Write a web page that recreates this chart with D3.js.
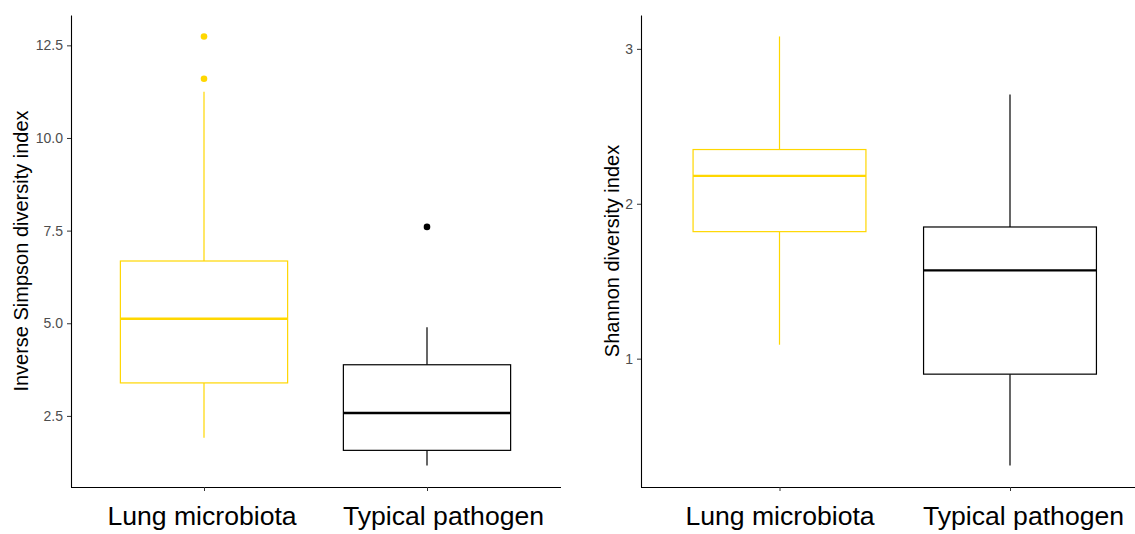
<!DOCTYPE html>
<html>
<head>
<meta charset="utf-8">
<script src="https://cdn.jsdelivr.net/npm/d3@7"></script>
<style>
  body { margin: 0; background: #fff; }
  svg { display: block; font-family: "Liberation Sans", Arial, sans-serif; }
</style>
</head>
<body>
<svg id="chart" width="1135" height="534"></svg>
<script>
////////////////////////////// DATA //////////////////////////////
const categories = ["Lung microbiota", "Typical pathogen"];
const groupColors = ["#FFD700", "#000000"];

// Inverse Simpson (left panel)
const simpsonLow     = [1.91, 1.16];
const simpsonQ1      = [3.39, 1.57];
const simpsonMedian  = [5.12, 2.58];
const simpsonQ3      = [6.68, 3.88];
const simpsonHigh    = [11.25, 4.89];
const simpsonOutliers = [[11.60, 12.74], [7.60]];
const simpsonTicks   = [2.5, 5.0, 7.5, 10.0, 12.5];

// Shannon (right panel)
const shannonLow     = [1.09, 0.31];
const shannonQ1      = [1.82, 0.90];
const shannonMedian  = [2.18, 1.57];
const shannonQ3      = [2.35, 1.85];
const shannonHigh    = [3.08, 2.705];
const shannonOutliers = [[], []];
const shannonTicks   = [1, 2, 3];

////////////////////////////// DRAW //////////////////////////////
const svg = d3.select("#chart");

function boxPanel(opt) {
  const g = svg.append("g");

  // ggplot-style: 5% expansion on y, 0.6 on discrete x
  const all = opt.low.concat(opt.high, opt.outliers.flat());
  const lo = d3.min(all), hi = d3.max(all), pad = (hi - lo) * 0.05;
  const y = d3.scaleLinear().domain([lo - pad, hi + pad]).range([opt.bottom, opt.top]);

  const x = d3.scalePoint().domain(categories).range([opt.c0, opt.c1]);
  const boxW = x.step() * 0.75;

  const rows = categories.map((c, i) => ({
    cat: c, col: groupColors[i],
    low: opt.low[i], q1: opt.q1[i], med: opt.median[i], q3: opt.q3[i], high: opt.high[i],
    out: opt.outliers[i]
  }));

  const box = g.selectAll("g.box").data(rows).enter().append("g").attr("class", "box");

  // whiskers
  box.append("line")
    .attr("x1", d => x(d.cat)).attr("x2", d => x(d.cat))
    .attr("y1", d => y(d.q3)).attr("y2", d => y(d.high))
    .attr("stroke", d => d.col).attr("stroke-width", 1.2);
  box.append("line")
    .attr("x1", d => x(d.cat)).attr("x2", d => x(d.cat))
    .attr("y1", d => y(d.q1)).attr("y2", d => y(d.low))
    .attr("stroke", d => d.col).attr("stroke-width", 1.2);

  // box
  box.append("rect")
    .attr("x", d => x(d.cat) - boxW / 2)
    .attr("width", boxW)
    .attr("y", d => y(d.q3))
    .attr("height", d => y(d.q1) - y(d.q3))
    .attr("fill", "white")
    .attr("stroke", d => d.col).attr("stroke-width", 1.2);

  // median
  box.append("line")
    .attr("x1", d => x(d.cat) - boxW / 2).attr("x2", d => x(d.cat) + boxW / 2)
    .attr("y1", d => y(d.med)).attr("y2", d => y(d.med))
    .attr("stroke", d => d.col).attr("stroke-width", 2.4);

  // outliers
  box.selectAll("circle")
    .data(d => d.out.map(v => ({ v: v, cat: d.cat, col: d.col })))
    .enter().append("circle")
    .attr("cx", d => x(d.cat)).attr("cy", d => y(d.v))
    .attr("r", 3.3).attr("fill", d => d.col);

  // axes
  const ya = g.append("g")
    .attr("transform", "translate(" + opt.left + ",0)")
    .call(d3.axisLeft(y).tickValues(opt.ticks).tickFormat(d3.format(opt.fmt))
      .tickSize(4).tickSizeOuter(0).tickPadding(4));
  ya.select(".domain").attr("stroke", "black").attr("stroke-width", 1.1);
  ya.selectAll(".tick line").attr("stroke", "#333");
  ya.selectAll(".tick text").attr("fill", "#4D4D4D").attr("font-size", 14);

  const xa = g.append("g")
    .attr("transform", "translate(0," + opt.bottom + ")")
    .call(d3.axisBottom(x).tickSize(4).tickSizeOuter(0).tickPadding(15));
  xa.select(".domain").attr("d", "M" + opt.left + ",0.5H" + opt.right)
    .attr("stroke", "black").attr("stroke-width", 1.1);
  xa.selectAll(".tick line").attr("stroke", "#333");
  xa.selectAll(".tick text")
    .attr("fill", "black").attr("font-size", 26.6)
    .attr("dx", (d, i) => opt.labelDx[i]);

  // y title
  g.append("text")
    .attr("transform", "translate(" + opt.titleX + "," + ((opt.top + opt.bottom) / 2) + ") rotate(-90)")
    .attr("text-anchor", "middle")
    .attr("font-size", 20)
    .attr("fill", "black")
    .text(opt.title);
}

boxPanel({
  low: simpsonLow, q1: simpsonQ1, median: simpsonMedian, q3: simpsonQ3, high: simpsonHigh,
  outliers: simpsonOutliers, ticks: simpsonTicks, fmt: ".1f",
  c0: 204, c1: 427, left: 71, right: 561, top: 15, bottom: 487,
  titleX: 28, title: "Inverse Simpson diversity index", labelDx: [-2.5, 16]
});

boxPanel({
  low: shannonLow, q1: shannonQ1, median: shannonMedian, q3: shannonQ3, high: shannonHigh,
  outliers: shannonOutliers, ticks: shannonTicks, fmt: "d",
  c0: 779.5, c1: 1010, left: 641, right: 1148, top: 15, bottom: 487,
  titleX: 619, title: "Shannon diversity index", labelDx: [0, 13]
});
</script>
</body>
</html>
